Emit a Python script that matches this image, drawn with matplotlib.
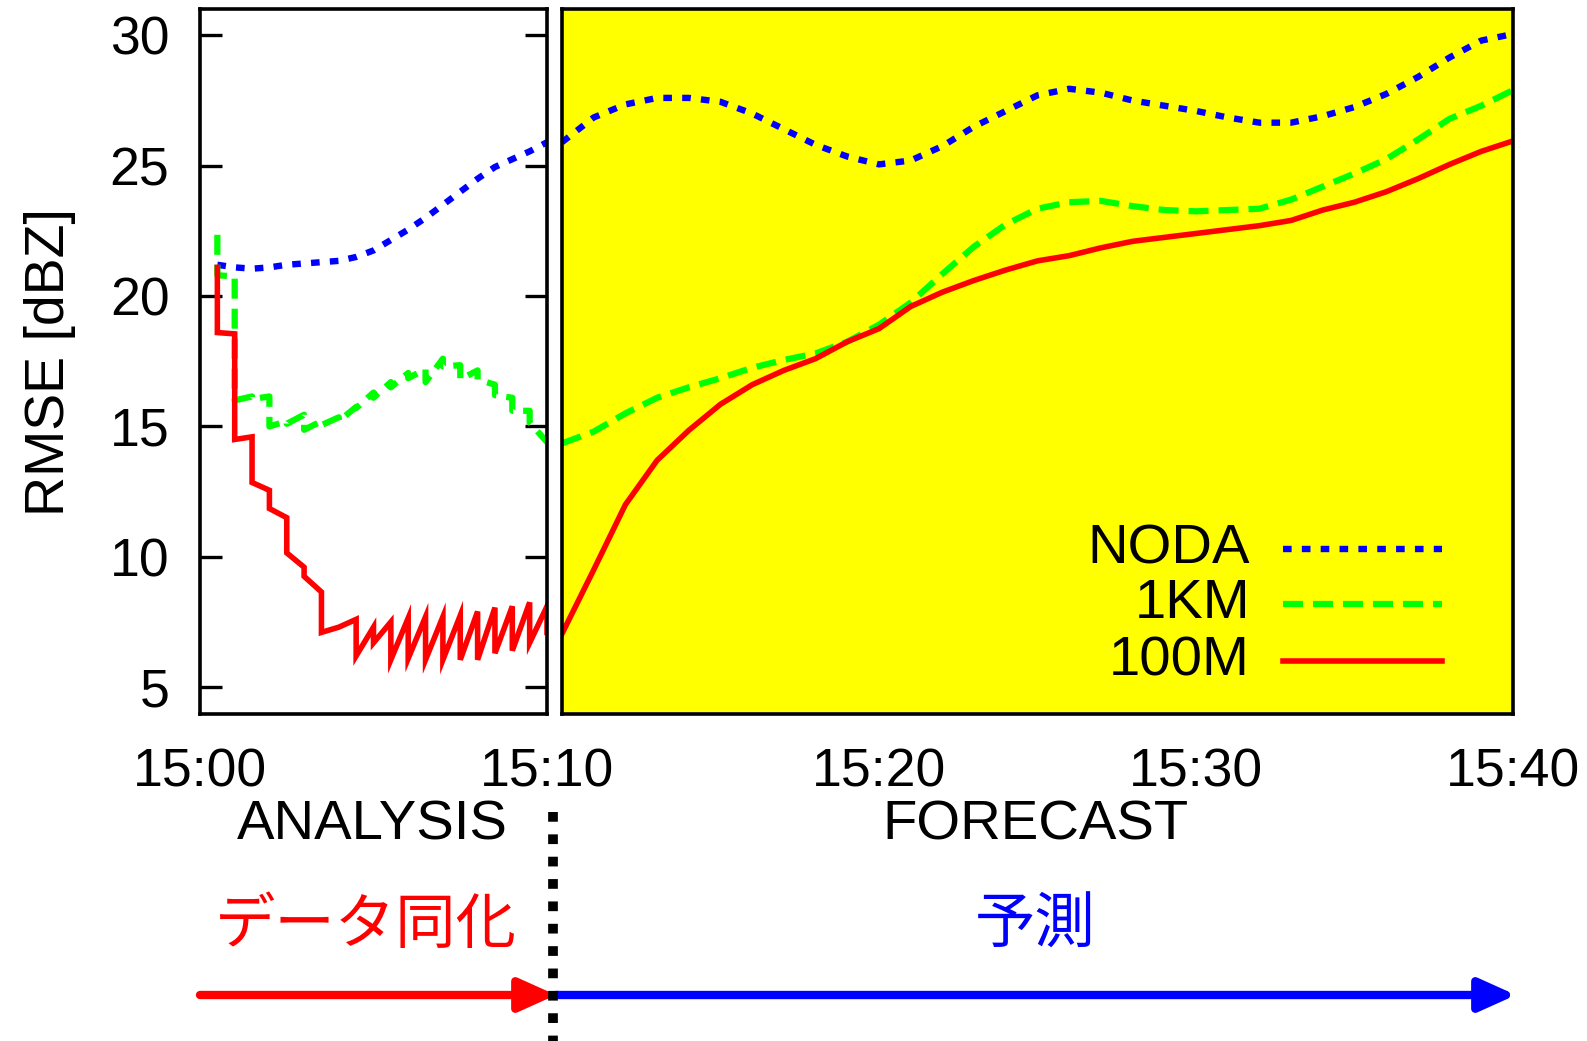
import matplotlib
matplotlib.use("Agg")
import matplotlib.pyplot as plt
from matplotlib.lines import Line2D

plt.rcParams["font.family"] = ["Liberation Sans", "DejaVu Sans"]

# analysis period (minutes after 15:00), 30 s cycles -> repeated times are analysis jumps
ana_t_noda = [0.5, 1.0, 1.5, 2.0, 2.5, 3.0, 3.5, 4.0, 4.5, 5.0,
              5.5, 6.0, 6.5, 7.0, 7.5, 8.0, 8.5, 9.0, 9.5, 10.0]
ana_noda = [21.2, 21.1, 21.05, 21.1, 21.2, 21.25, 21.3, 21.35, 21.5, 21.75,
            22.15, 22.55, 23.0, 23.5, 24.0, 24.5, 24.95, 25.25, 25.55, 25.9]

ana_t_1km = [0.5, 0.5, 1.0, 1.0, 1.5, 1.5, 2.0, 2.0, 2.5, 2.5, 3.0, 3.0,
             3.5, 3.5, 4.0, 4.0, 4.5, 4.5, 5.0, 5.0, 5.5, 5.5, 6.0, 6.0,
             6.5, 6.5, 7.0, 7.0, 7.5, 7.5, 8.0, 8.0, 8.5, 8.5, 9.0, 9.0,
             9.5, 9.5, 10.0]
ana_1km = [22.35, 20.8, 20.75, 16.0, 16.15, 16.05, 16.15, 15.0, 15.2, 15.1, 15.45, 14.87,
           15.2, 15.05, 15.35, 15.2, 15.75, 15.7, 16.3, 16.1, 16.7, 16.5, 17.05, 16.85,
           17.2, 16.7, 17.6, 17.3, 17.35, 16.8, 17.15, 16.8, 16.6, 16.2, 16.1, 15.6,
           15.6, 15.15, 14.4]

ana_t_100m = [0.5, 0.5, 1.0, 1.0, 1.5, 1.5, 2.0, 2.0, 2.5, 2.5, 3.0, 3.0,
              3.5, 3.5, 4.0, 4.5, 4.5, 5.0, 5.0, 5.5, 5.5, 6.0, 6.0, 6.5,
              6.5, 7.0, 7.0, 7.5, 7.5, 8.0, 8.0, 8.5, 8.5, 9.0, 9.0, 9.5,
              9.5, 10.0, 10.0]
ana_100m = [21.1, 18.6, 18.55, 14.5, 14.6, 12.85, 12.55, 11.85, 11.5, 10.15, 9.6, 9.25,
            8.65, 7.1, 7.3, 7.6, 6.2, 7.3, 6.7, 7.5, 6.05, 7.65, 6.1, 7.7,
            6.05, 7.7, 6.05, 7.75, 6.05, 7.9, 6.05, 8.05, 6.3, 8.1, 6.4, 8.25,
            6.7, 8.1, 7.1]

# forecast period (minutes after 15:00)
fcst_t = list(range(10, 41))
fcst_noda = [25.9, 26.85, 27.35, 27.6, 27.6, 27.45, 27.0, 26.4, 25.8, 25.35,
             25.05, 25.2, 25.75, 26.5, 27.1, 27.7, 27.95, 27.8, 27.5, 27.3,
             27.1, 26.85, 26.65, 26.65, 26.9, 27.25, 27.75, 28.4, 29.15, 29.8, 30.05]
fcst_1km = [14.35, 14.8, 15.5, 16.1, 16.5, 16.85, 17.25, 17.55, 17.8, 18.25,
            18.9, 19.75, 20.85, 21.9, 22.75, 23.35, 23.6, 23.65, 23.45, 23.3,
            23.25, 23.3, 23.35, 23.7, 24.2, 24.7, 25.25, 26.0, 26.8, 27.3, 27.9]
fcst_100m = [7.05, 9.5, 12.0, 13.7, 14.85, 15.85, 16.6, 17.15, 17.6, 18.25,
             18.75, 19.6, 20.15, 20.6, 21.0, 21.35, 21.55, 21.85, 22.1, 22.25,
             22.4, 22.55, 22.7, 22.9, 23.3, 23.6, 24.0, 24.5, 25.05, 25.55, 25.95]

labels = ["NODA", "1KM", "100M"]
ana_ticks = [0, 10]
ana_ticklabels = ["15:00", "15:10"]
fcst_ticks = [20, 30, 40]
fcst_ticklabels = ["15:20", "15:30", "15:40"]
y_ticks = [5, 10, 15, 20, 25, 30]

styles = {
    "NODA": dict(color="#0000FF", lw=4.6, dashes=(1.35, 1.6), dash_capstyle="butt"),
    "1KM": dict(color="#00FF00", lw=4.5, dashes=(3.2, 1.6), dash_capstyle="butt"),
    "100M": dict(color="#FF0000", lw=4.0, solid_joinstyle="miter"),
}

W, H = 1587, 1041
fig = plt.figure(figsize=(W / 100, H / 100), dpi=100)
ax1 = fig.add_axes([200 / W, 1 - 714 / H, 347 / W, 705 / H])
ax2 = fig.add_axes([562 / W, 1 - 714 / H, 951 / W, 705 / H])
ax2.set_facecolor("#FFFF00")

ax1.plot(ana_t_noda, ana_noda, **styles["NODA"])
ax1.plot(ana_t_1km, ana_1km, **styles["1KM"])
ax1.plot(ana_t_100m, ana_100m, **styles["100M"])

ax2.plot(fcst_t, fcst_noda, **styles["NODA"])
ax2.plot(fcst_t, fcst_1km, **styles["1KM"])
ax2.plot(fcst_t, fcst_100m, **styles["100M"])

for ax in (ax1, ax2):
    ax.set_ylim(3.97, 31.01)
    for s in ax.spines.values():
        s.set_linewidth(2.6)
        s.set_zorder(5)

ax1.set_xlim(0, 10)
ax1.set_xticks(ana_ticks)
ax1.set_xticklabels(ana_ticklabels)
ax1.set_yticks(y_ticks)
ax1.tick_params(axis="y", direction="in", length=16, width=2.4, left=True, right=True,
                labelsize=38.5, pad=22)
ax1.tick_params(axis="x", length=0, labelsize=38.5, pad=24)
ax1.set_ylabel("RMSE [dBZ]", fontsize=40, labelpad=24)

ax2.set_xlim(10, 40)
ax2.set_xticks(fcst_ticks)
ax2.set_xticklabels(fcst_ticklabels)
ax2.set_yticks([])
ax2.tick_params(axis="x", length=0, labelsize=38.5, pad=24)

# legend drawn by hand: right-aligned names, sample line to the right
leg_y = [0.234, 0.156, 0.075]
for name, yy in zip(labels, leg_y):
    ax2.text(0.7234, yy, name, transform=ax2.transAxes, ha="right", va="center",
             fontsize=40.5)
    ax2.add_line(Line2D([0.758, 0.925], [yy, yy], transform=ax2.transAxes,
                        **styles[name]))

fig.text(372 / W, 1 - 825 / H, "ANALYSIS", ha="center", va="center", fontsize=40.5)
fig.text(1035 / W, 1 - 825 / H, "FORECAST", ha="center", va="center", fontsize=40.5)

jp = ["Noto Sans CJK JP", "DejaVu Sans"]
fig.text(366 / W, 1 - 926 / H, "データ同化", ha="center", va="center", fontsize=43.5,
         color="#FF0000", family=jp)
fig.text(1035 / W, 1 - 926 / H, "予測", ha="center", va="center", fontsize=43.5,
         color="#0000FF", family=jp)

# timeline arrows
arrow_y = 1 - 995 / H
fig.add_artist(Line2D([553 / W, 553 / W], [1 - 812 / H, 0], color="black", lw=7,
                      dashes=(1.0, 1.3), dash_capstyle="butt"))
fig.patches.append(matplotlib.patches.FancyArrowPatch(
    (200 / W, arrow_y), (556 / W, arrow_y), transform=fig.transFigure,
    arrowstyle="-|>,head_length=1.0,head_width=0.45", mutation_scale=22,
    color="#FF0000", lw=6, shrinkA=0, shrinkB=0))
fig.patches.append(matplotlib.patches.FancyArrowPatch(
    (556 / W, arrow_y), (1516 / W, arrow_y), transform=fig.transFigure,
    arrowstyle="-|>,head_length=1.0,head_width=0.45", mutation_scale=22,
    color="#0000FF", lw=6, shrinkA=0, shrinkB=0))

fig.savefig("out.png", dpi=100)
